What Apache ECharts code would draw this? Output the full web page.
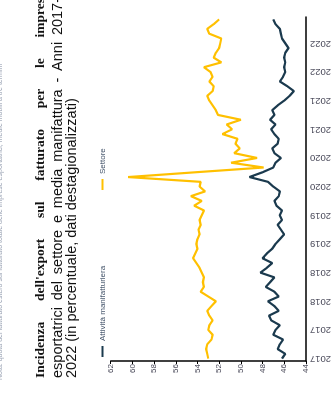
<!DOCTYPE html>
<html><head><meta charset="utf-8">
<script src="https://cdn.jsdelivr.net/npm/echarts@6/dist/echarts.min.js"></script>
<style>
html,body{margin:0;padding:0;width:334px;height:394px;overflow:hidden;background:#fff;}
#chart{position:absolute;left:0;top:0;width:394px;height:334px;transform-origin:0 0;transform:translateY(394px) rotate(-90deg);}
</style></head><body><div id="chart"></div>
<script>
// ---- data ----
const years = ['2017','2018','2019','2020','2021','2022'];
const monthNames = ['gen','feb','mar','apr','mag','giu','lug','ago','set','ott','nov','dic'];
const seriesNames = ['Attività manifatturiera','Settore'];
const manifattura = [
  46.2, 45.9, 46.6, 46.4, 46.1, 47.0, 46.8, 46.4, 47.2, 47.4, 46.5, 46.9,
  47.5, 46.5, 46.9, 47.7, 47.3, 46.9, 48.2, 47.6, 47.1, 48.0, 47.6, 47.1,
  46.8, 46.4, 46.0, 46.3, 46.6, 46.2, 46.4, 46.2, 46.7, 46.9, 46.5, 46.4,
  47.0, 47.5, 49.2, 48.0, 47.0, 46.8, 46.3, 46.9, 47.1, 46.6, 46.5, 46.9,
  47.2, 46.8, 47.3, 46.9, 47.1, 46.6, 46.0, 45.5, 45.1, 45.7, 46.4, 46.1,
  45.9, 46.0, 45.9, 46.0, 45.9, 45.6, 45.9, 46.2, 46.3, 46.4, 46.8, 47.0
];
const settore = [
  53.0, 53.1, 53.2, 53.1, 52.7, 52.6, 53.0, 52.9, 52.6, 52.9, 53.1, 52.7,
  52.3, 53.0, 53.7, 53.4, 53.5, 53.4, 53.6, 53.8, 54.1, 54.4, 54.2, 54.0,
  54.1, 54.0, 53.8, 53.9, 53.7, 53.8, 53.6, 53.4, 54.3, 53.6, 54.6, 53.3,
  53.8, 53.7, 60.4, 54.2, 47.9, 50.9, 48.5, 50.6, 50.1, 50.5, 50.3, 51.7,
  50.8, 51.3, 50.0, 52.1, 52.3, 52.6, 52.9, 53.1, 52.6, 52.5, 52.9, 52.6,
  52.8, 53.4, 51.8, 52.5, 52.3, 52.0, 51.9, 51.8, 52.9, 53.1, 52.5, 52.0
];
const yMin = 44, yMax = 62, yStep = 2;
const titleLines = [
  "Incidenza dell'export sul fatturato per le imprese",
  "esportatrici del settore e media manifattura - Anni 2017-",
  "2022 (in percentuale, dati destagionalizzati)"
];
const noteText = "Nota: quota del fatturato estero sul fatturato totale delle imprese esportatrici, medie mobili a tre termini";

// ---- build ----
const categories = [];
years.forEach(y => monthNames.forEach(m => categories.push(m + ' ' + y)));

const ctx = document.createElement('canvas').getContext('2d');
function lineWords(text, font, x0, width, y, fill, justify) {
  ctx.font = font;
  const words = text.split(' ');
  const ws = words.map(w => ctx.measureText(w).width);
  const total = ws.reduce((a, b) => a + b, 0);
  const gap = justify ? (width - total) / (words.length - 1) : ctx.measureText(' ').width;
  let x = x0;
  return words.map((w, i) => {
    const el = { type: 'text', x: x, y: y, silent: true,
      style: { text: w, font: font, fill: fill, textVerticalAlign: 'middle', textAlign: 'left' } };
    x += ws[i] + gap;
    return el;
  });
}
const f1 = 'bold 13.5px "Liberation Serif"';
const f2 = '14.5px "Liberation Sans"';
const graphics = [].concat(
  lineWords(titleLines[0], f1, 16, 386, 41, '#111', true),
  lineWords(titleLines[1], f2, 16, 380, 57.5, '#111', true),
  lineWords(titleLines[2], f2, 16, 0, 71.5, '#111', false),
  [{ type: 'text', x: 14, y: 3.5, silent: true,
     style: { text: noteText, font: '7px "Liberation Sans"', fill: '#9aa3b4', textVerticalAlign: 'bottom' } }]
);

const chart = echarts.init(document.getElementById('chart'), null, { renderer: 'canvas' });
const legendCommon = { icon: 'rect', itemWidth: 11, itemHeight: 2, top: 98.5, padding: 0,
  textStyle: { fontSize: 8, color: '#44546A', fontFamily: 'Liberation Sans' } };
chart.setOption({
  animation: false,
  backgroundColor: '#fff',
  graphic: graphics,
  legend: [
    Object.assign({ data: [seriesNames[0]], left: 37 }, legendCommon),
    Object.assign({ data: [seriesNames[1]], left: 204 }, legendCommon)
  ],
  grid: { left: 33, right: 17, top: 110.7, bottom: 26 },
  xAxis: {
    type: 'category', data: categories, boundaryGap: true,
    axisLine: { lineStyle: { color: '#000', width: 1.5 } },
    axisTick: { alignWithLabel: true, interval: 5, length: 3, lineStyle: { color: '#000' } },
    axisLabel: { interval: 5, rotate: 90, margin: 4, fontSize: 9.5, color: '#4a4a5a',
      fontFamily: 'Liberation Sans', formatter: v => v.slice(-4) },
    splitLine: { show: false }
  },
  yAxis: {
    type: 'value', min: yMin, max: yMax, interval: yStep,
    axisLine: { show: true, lineStyle: { color: '#000', width: 1.5 } },
    axisTick: { show: true, length: 3, lineStyle: { color: '#000' } },
    axisLabel: { margin: 3, fontSize: 8, color: '#4a4a5a', fontFamily: 'Liberation Sans' },
    splitLine: { show: false }
  },
  series: [
    { name: seriesNames[0], type: 'line', data: manifattura, showSymbol: false,
      lineStyle: { width: 2.2, color: '#1B3A4E' }, itemStyle: { color: '#1B3A4E' } },
    { name: seriesNames[1], type: 'line', data: settore, showSymbol: false,
      lineStyle: { width: 2.2, color: '#FFC000' }, itemStyle: { color: '#FFC000' } }
  ]
});
</script></body></html>
